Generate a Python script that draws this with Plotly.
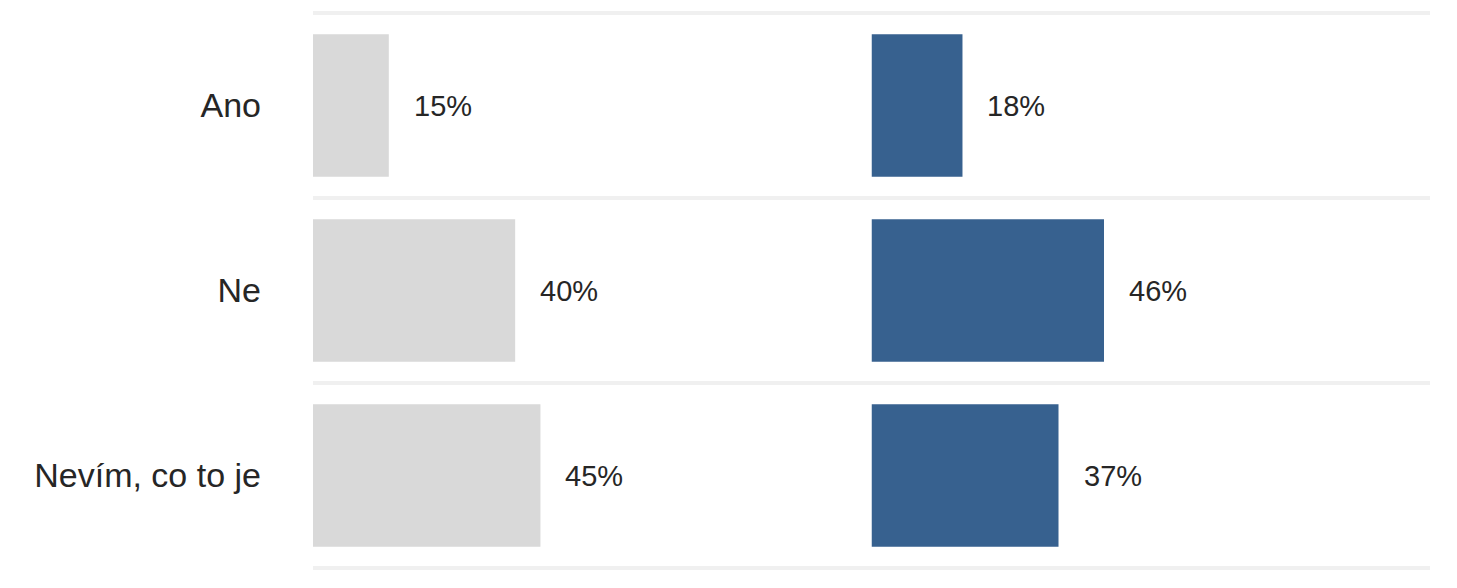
import plotly.graph_objects as go

categories = ["Ano", "Ne", "Nevím, co to je"]
values_left = [15, 40, 45]
values_right = [18, 46, 37]
labels_left = ["15%", "40%", "45%"]
labels_right = ["18%", "46%", "37%"]

FONT = "Liberation Sans, Arial, sans-serif"
TEXT_COLOR = "#262626"

fig = go.Figure()
fig.add_trace(go.Bar(
    y=categories, x=values_left, orientation="h",
    marker=dict(color="#d9d9d9", line=dict(width=0)),
    width=0.77, xaxis="x", yaxis="y", hoverinfo="skip", showlegend=False,
))
fig.add_trace(go.Bar(
    y=categories, x=values_right, orientation="h",
    marker=dict(color="#37618f", line=dict(width=0)),
    width=0.77, xaxis="x2", yaxis="y", hoverinfo="skip", showlegend=False,
))

annotations = []
for cat, v, lab in zip(categories, values_left, labels_left):
    annotations.append(dict(x=v, y=cat, xref="x", yref="y", text=lab,
                            xanchor="left", yanchor="middle", xshift=23, yshift=0,
                            showarrow=False, font=dict(size=29, color=TEXT_COLOR, family=FONT)))
for cat, v, lab in zip(categories, values_right, labels_right):
    annotations.append(dict(x=v, y=cat, xref="x2", yref="y", text=lab,
                            xanchor="left", yanchor="middle", xshift=23, yshift=0,
                            showarrow=False, font=dict(size=29, color=TEXT_COLOR, family=FONT)))

shapes = []
n = len(categories)
for i in range(n + 1):
    b = i - 0.5
    shapes.append(dict(type="line", xref="paper", yref="y", x0=0, x1=1, y0=b, y1=b,
                       line=dict(color="#f0f0f0", width=4), layer="below"))

fig.update_layout(
    width=1449, height=580,
    margin=dict(l=305, r=27, t=3, b=18),
    paper_bgcolor="white", plot_bgcolor="white",
    font=dict(family=FONT, color=TEXT_COLOR),
    xaxis=dict(domain=[0, 0.5], range=[0, 110.5], showgrid=False, zeroline=False,
               showticklabels=False, showline=False, fixedrange=True),
    xaxis2=dict(domain=[0.5, 1], range=[0, 110.5], showgrid=False, zeroline=False,
                showticklabels=False, showline=False, fixedrange=True),
    yaxis=dict(categoryorder="array", categoryarray=categories, autorange="reversed",
               range=[n - 0.5, -0.5], showgrid=False, zeroline=False, showline=False,
               ticks="", ticklabelstandoff=51,
               tickfont=dict(size=34, color=TEXT_COLOR, family=FONT), fixedrange=True),
    annotations=annotations,
    shapes=shapes,
    bargap=0.23,
)

fig.write_html("out.html")
